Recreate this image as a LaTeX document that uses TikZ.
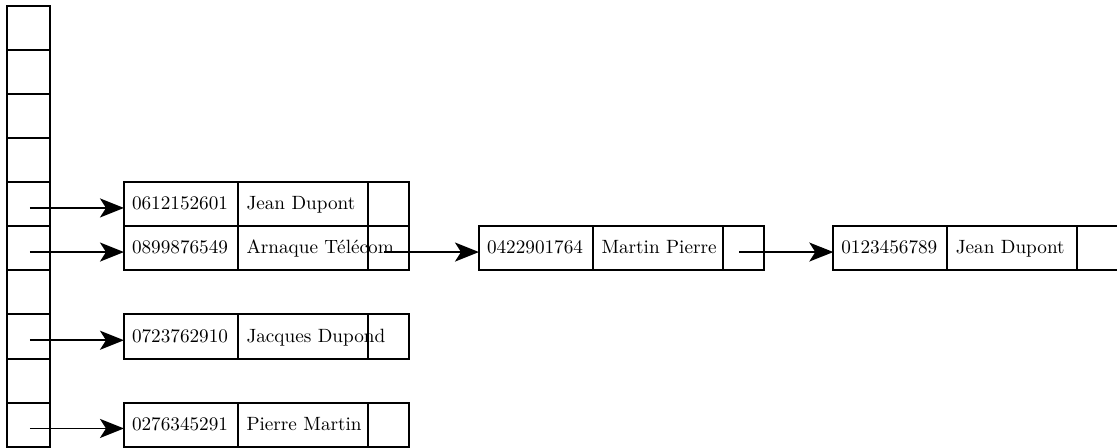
\documentclass[tikz,border=0pt]{standalone}
\usepackage{fontspec}
\usetikzlibrary{arrows.meta}
% One record of the list: number field, name field, pointer field
\newcommand\drawrecord[5]{%
  \node[numf, anchor=west] (#1a) at (#2,#3) {};
  \node[namef, anchor=west] (#1b) at (#1a.east) {};
  \node[ptrf, anchor=west] (#1c) at (#1b.east) {};
  \node[txt] (#1n) at ([xshift=3.8pt,yshift=-2.8pt]#1a.west) {#4};
  \node[txt] (#1m) at ([xshift=4.3pt,yshift=-2.8pt]#1b.west) {#5};
}
\begin{document}
\begin{tikzpicture}[x=0.5pt,y=-0.5pt,
  cell/.style={draw, line width=1pt, minimum width=21.35pt, minimum height=22.05pt, inner sep=0pt, outer sep=0pt},
  field/.style={draw, line width=1pt, minimum height=22.05pt, inner sep=0pt, outer sep=0pt},
  numf/.style={field, minimum width=56.75pt},
  namef/.style={field, minimum width=65pt},
  ptrf/.style={field, minimum width=20.75pt},
  txt/.style={anchor=base west, inner sep=0pt, font=\fontsize{9.6}{11.5}\selectfont},
  link/.style={line width=0.9pt, -{Stealth[length=12pt,width=9.5pt,inset=3pt]}}
]
\useasboundingbox (0,0) rectangle (1117,448);

% hash table column
\foreach \k in {0,...,9}
  \node[cell] (c\k) at (28.65, 27.75+44.1*\k) {};

% records hanging from the table
\drawrecord{r1}{124}{204.15}{0612152601}{Jean Dupont}
\drawrecord{r2}{124}{248.25}{0899876549}{Arnaque Télécom}
\drawrecord{r3}{124}{336.45}{0723762910}{Jacques Dupond}
\drawrecord{r4}{124}{424.65}{0276345291}{Pierre Martin}

% chained records of the collision list
\drawrecord{s2}{479}{248.25}{0422901764}{Martin Pierre}
\drawrecord{s3}{833.3}{248.25}{0123456789}{Jean Dupont}

% pointers from the table cells
\foreach \k/\r in {4/r1, 5/r2, 7/r3, 9/r4} {
  \coordinate (p\k) at ([xshift=0.6pt,yshift=-1.9pt]c\k.center);
  \draw[link] (p\k) -- (\r a.west |- p\k);
}

% pointers along the chain
\coordinate (q2) at ([xshift=-2pt,yshift=-1.9pt]r2c.center);
\draw[link] (q2) -- (s2a.west |- q2);
\coordinate (q3) at ([xshift=-2pt,yshift=-1.9pt]s2c.center);
\draw[link] (q3) -- (s3a.west |- q3);
\end{tikzpicture}
\end{document}
